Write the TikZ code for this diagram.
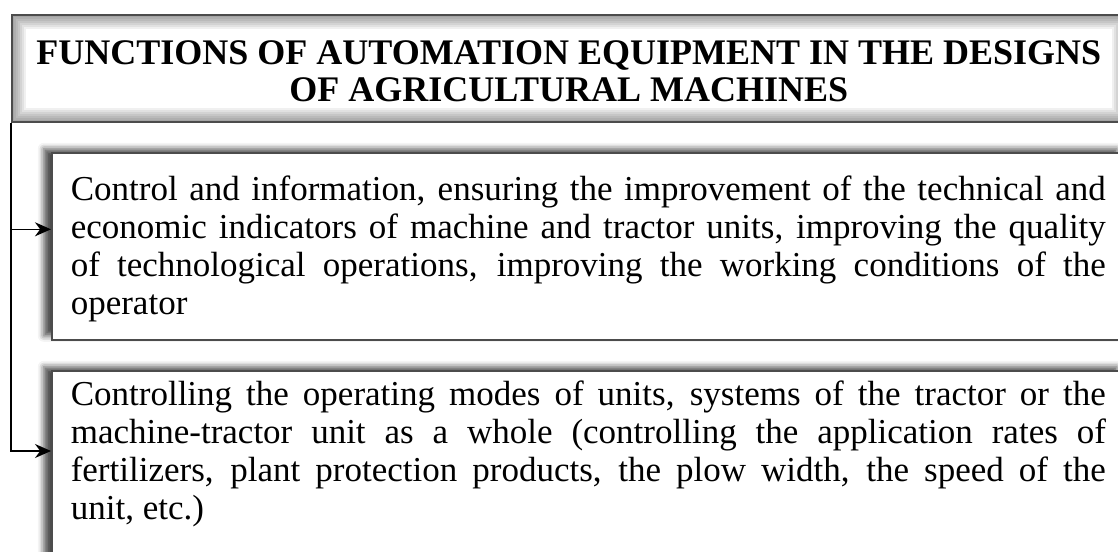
\documentclass[tikz,border=0pt]{standalone}
\usepackage{fontspec}
\setmainfont{Liberation Serif}
\usetikzlibrary{shadows.blur,arrows.meta}

\begin{document}
\begin{tikzpicture}[x=1pt, y=-1pt,
		box/.style={draw=black!70, line width=1.6pt, fill=white, rectangle, anchor=north west},
		textbox/.style={box, text width=1035pt, inner xsep=19pt, align=justify,
				font=\fontsize{35}{38}\selectfont,
				blur shadow={shadow xshift=-8pt, shadow yshift=4pt, shadow blur radius=6pt, shadow opacity=70}},
		headbox/.style={box, minimum width=1114pt, minimum height=107pt, align=center,
				font=\fontsize{36}{37}\selectfont\bfseries,
				path picture={\foreach \w in {4,8,...,28}
						\draw[black, opacity=0.06, line width=\w pt] (path picture bounding box.south west) rectangle (path picture bounding box.north east);}},
		link/.style={draw=black, line width=1.6pt, -{Stealth[length=16pt, width=14pt]}}]
	\useasboundingbox (0,0) rectangle (1118,551);
	\clip (0,0) rectangle (1118,551);

	\node[headbox] (head) at (11,14) {\rule{0pt}{30pt}FUNCTIONS OF AUTOMATION EQUIPMENT IN THE DESIGNS\\OF AGRICULTURAL MACHINES};

	\node[textbox, minimum height=187pt] (info) at (51,152)
	{\rule{0pt}{30pt}Control and information, ensuring the improvement of the technical and\linebreak
		economic indicators of machine and tractor units, improving the quality\linebreak
		of technological operations, improving the working conditions of the\linebreak
		operator};

	\node[textbox, inner ysep=10pt] (modes) at (51,370)
	{Controlling the operating modes of units, systems of the tractor or the\linebreak
		machine-tractor unit as a whole (controlling the application rates of\linebreak
		fertilizers, plant protection products, the plow width, the speed of the\linebreak
		unit, etc.)\par\rule{0pt}{60pt}};

	% connectors from the heading
	\draw[link] (head.south west) |- ([yshift=17pt]info.west);
	\draw[link] (head.south west) |- ([yshift=-81pt]modes.north west);
\end{tikzpicture}
\end{document}
